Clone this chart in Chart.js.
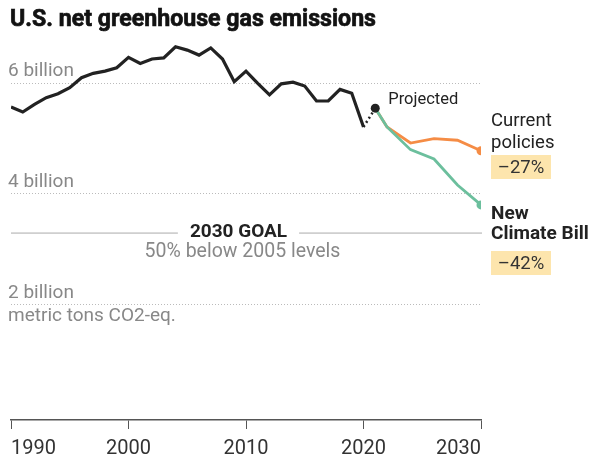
<!DOCTYPE html>
<html><head><meta charset="utf-8">
<script src="https://cdn.jsdelivr.net/npm/chart.js@4"></script>
<style>html,body{margin:0;padding:0;background:#fff}#wrap{width:600px;height:459px;position:relative}</style>
</head><body><div id="wrap"><canvas id="c"></canvas></div>
<script>
const titleText = "U.S. net greenhouse gas emissions";
const histYears = [1990,1991,1992,1993,1994,1995,1996,1997,1998,1999,2000,2001,2002,2003,2004,2005,2006,2007,2008,2009,2010,2011,2012,2013,2014,2015,2016,2017,2018,2019,2020];
const histValues = [5.57,5.48,5.62,5.74,5.81,5.92,6.10,6.18,6.22,6.28,6.47,6.36,6.44,6.46,6.66,6.60,6.51,6.64,6.44,6.03,6.22,6.00,5.79,5.99,6.02,5.95,5.68,5.68,5.89,5.82,5.21];
const bridgeYears = [2020,2021];
const bridgeValues = [5.21,5.55];
const projYears = [2021,2022,2024,2026,2028,2030];
const currentPolicies = [5.55,5.21,4.92,5.00,4.97,4.78];
const climateBill = [5.55,5.21,4.80,4.63,4.16,3.80];
const xTickValues = [1990,2000,2010,2020,2030];
const yTickValues = [2,4,6];
const yTickLabels = [["2 billion","metric tons CO2-eq."],["4 billion",""],["6 billion",""]];
const goalValue = 3.3;
const goalTitle = "2030 GOAL";
const goalSub = "50% below 2005 levels";
const currentLabel = ["Current","policies"];
const currentPct = "–27%";
const billLabel = ["New","Climate Bill"];
const billPct = "–42%";
const projectedLabel = "Projected";

const BLACK = "#222222", ORANGE = "#f58c45", GREEN = "#6cbf9d";
const pts = (xs, ys) => xs.map((x, i) => ({x, y: ys[i]}));
const lastDot = (n, r) => (c) => c.dataIndex === n - 1 ? r : 0;

function fitText(ctx, txt, x, y, maxW, stroke) {
  const w = ctx.measureText(txt).width;
  ctx.save();
  ctx.translate(x, y);
  if (w > maxW) ctx.scale(maxW / w, 1);
  ctx.fillText(txt, 0, 0);
  if (stroke) { ctx.lineWidth = stroke; ctx.strokeStyle = ctx.fillStyle; ctx.strokeText(txt, 0, 0); }
  ctx.restore();
}

const annot = {
  id: 'annot',
  afterDraw(chart) {
    const {ctx, chartArea, scales} = chart;
    const x = scales.x, y = scales.y;
    ctx.save();
    // title
    ctx.font = "bold 24px Roboto";
    ctx.fillStyle = "#121212";
    ctx.textBaseline = "alphabetic";
    ctx.textAlign = "left";
    fitText(ctx, titleText, 10, 26, 366, 0.7);

    // goal line
    const gy = y.getPixelForValue(goalValue);
    const gx = 238.5;
    ctx.font = "bold 19px Roboto";
    ctx.fillStyle = BLACK;
    ctx.textAlign = "center";
    ctx.textBaseline = "middle";
    ctx.fillText(goalTitle, gx, gy);
    const gw = ctx.measureText(goalTitle).width;
    ctx.strokeStyle = "#aaaaaa";
    ctx.lineWidth = 1;
    ctx.beginPath();
    ctx.moveTo(chartArea.left, gy + 0.5); ctx.lineTo(gx - gw / 2 - 12, gy + 0.5);
    ctx.moveTo(gx + gw / 2 + 12, gy + 0.5); ctx.lineTo(chartArea.right + 1, gy + 0.5);
    ctx.stroke();
    ctx.font = "19.5px Roboto";
    ctx.fillStyle = "#888888";
    ctx.fillText(goalSub, 242.5, gy + 20);

    // projected label
    const px = x.getPixelForValue(bridgeYears[1]);
    const py = y.getPixelForValue(bridgeValues[1]);
    ctx.font = "16.5px Roboto";
    ctx.fillStyle = BLACK;
    ctx.textAlign = "left";
    ctx.fillText(projectedLabel, px + 13, py - 8);

    // right labels
    const lx = 491;
    ctx.textBaseline = "alphabetic";
    ctx.font = "18.5px Roboto";
    ctx.fillStyle = BLACK;
    ctx.fillText(currentLabel[0], lx, 126);
    ctx.fillText(currentLabel[1], lx, 148);
    const box = (top, txt) => {
      ctx.fillStyle = "#fde5ad";
      ctx.fillRect(lx, top, 60, 24);
      ctx.fillStyle = "#333333";
      ctx.font = "18.5px Roboto";
      ctx.textAlign = "center";
      ctx.textBaseline = "middle";
      ctx.fillText(txt, lx + 30, top + 13);
      ctx.textAlign = "left";
      ctx.textBaseline = "alphabetic";
    };
    box(155, currentPct);
    ctx.font = "bold 19px Roboto";
    ctx.fillStyle = BLACK;
    ctx.fillText(billLabel[0], lx, 219);
    ctx.fillText(billLabel[1], lx, 239);
    box(251, billPct);
    ctx.restore();
  }
};

new Chart(document.getElementById('c'), {
  type: 'line',
  data: {
    datasets: [
      {data: pts(bridgeYears, bridgeValues), borderColor: BLACK, borderWidth: 2.5, borderDash: [2, 3],
       pointRadius: lastDot(2, 4.5), pointBackgroundColor: BLACK, pointBorderWidth: 0},
      {data: pts(projYears, climateBill), borderColor: GREEN, borderWidth: 2.8,
       pointRadius: lastDot(projYears.length, 4.5), pointBackgroundColor: GREEN, pointBorderWidth: 0},
      {data: pts(projYears, currentPolicies), borderColor: ORANGE, borderWidth: 2.8,
       pointRadius: lastDot(projYears.length, 4.5), pointBackgroundColor: ORANGE, pointBorderWidth: 0},
      {data: pts(histYears, histValues), borderColor: BLACK, borderWidth: 3.2, pointRadius: 0}
    ]
  },
  options: {
    responsive: true, maintainAspectRatio: false, animation: false,
    events: [],
    layout: {padding: {left: 11, right: 119, top: 28, bottom: 0}},
    elements: {line: {tension: 0, fill: false}},
    plugins: {legend: {display: false}, tooltip: {enabled: false}},
    scales: {
      x: {
        type: 'linear', min: 1990, max: 2030,
        afterBuildTicks: (s) => { s.ticks = xTickValues.map(v => ({value: v})); },
        afterFit: (s) => { s.height = 39; },
        grid: {drawOnChartArea: false, drawTicks: true, tickLength: 9, color: '#555555', lineWidth: 1},
        border: {display: true, color: '#555555', width: 1.5},
        ticks: {align: 'inner', padding: 8, color: '#333333', font: {family: 'Roboto', size: 20},
                maxRotation: 0, autoSkip: false, callback: (v) => String(v)}
      },
      y: {
        type: 'linear', min: -0.09, max: 7.0,
        afterBuildTicks: (s) => { s.ticks = yTickValues.map(v => ({value: v})); },
        grid: {drawTicks: false, color: '#bbbbbb', lineWidth: 1},
        border: {display: false, dash: [1, 2]},
        ticks: {mirror: true, padding: -1, color: '#888888', font: {family: 'Roboto', size: 19, lineHeight: 1.22},
                callback: (v) => yTickLabels[yTickValues.indexOf(v)]}
      }
    }
  },
  plugins: [annot]
});
</script>
</body></html>
